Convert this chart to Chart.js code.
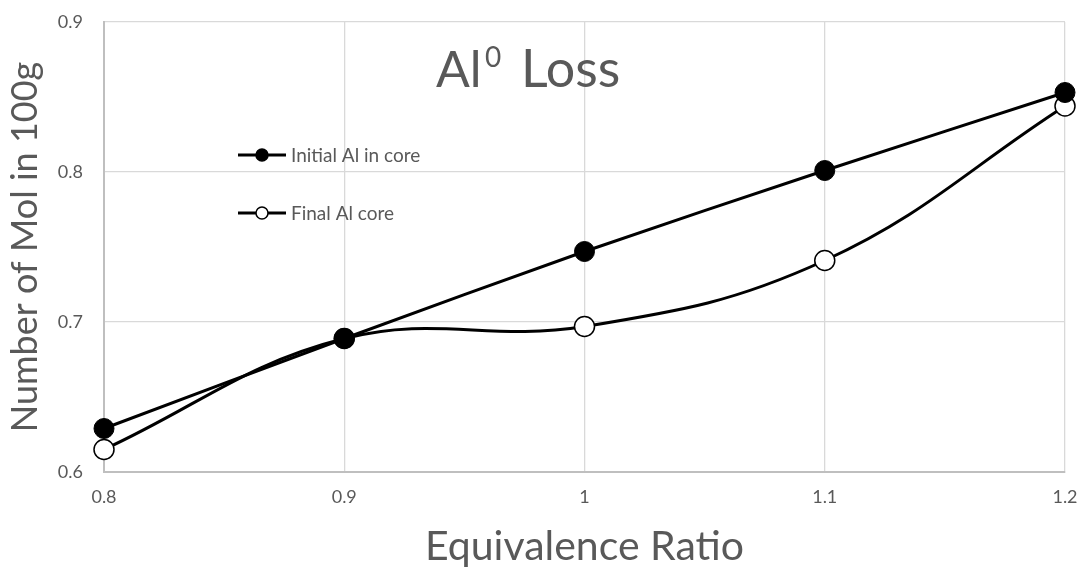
<!DOCTYPE html>
<html>
<head>
<meta charset="utf-8">
<script src="https://cdn.jsdelivr.net/npm/chart.js@4.4.1/dist/chart.umd.min.js"></script>
<style>
  html, body { margin: 0; padding: 0; background: #fff; }
  #wrap { width: 1080px; height: 567px; position: relative; }
</style>
</head>
<body>
<div id="wrap"><canvas id="c" width="1080" height="567"></canvas></div>
<script>
// Equivalence ratio vs. moles of aluminium per 100 g
const ratios = [0.8, 0.9, 1.0, 1.1, 1.2];
const initialAl = [0.629, 0.689, 0.747, 0.801, 0.853];
const finalAl = [0.615, 0.689, 0.697, 0.741, 0.844];
const yTicks = [0.6, 0.7, 0.8, 0.9];
const xTicks = ['0.8', '0.9', '1', '1.1', '1.2'];
const seriesNames = ['Initial Al in core', 'Final Al core'];

const FONT = 'Lato, "Open Sans", sans-serif';
const GREY = '#595959';

const toPts = (xs, ys) => xs.map((x, i) => ({ x: x, y: ys[i] }));

// In-plot legend and heading
const overlay = {
  id: 'overlay',
  afterDraw(chart) {
    const ctx = chart.ctx;
    ctx.save();
    // heading "Al⁰ Loss"
    ctx.fillStyle = GREY;
    ctx.textBaseline = 'alphabetic';
    ctx.textAlign = 'left';
    const base = 87;
    ctx.font = '50px ' + FONT;
    ctx.fillText('Al', 436, base);
    ctx.font = '28px ' + FONT;
    ctx.fillText('0', 485, 67);
    ctx.font = '52px ' + FONT;
    ctx.fillText('Loss', 521, base);

    // legend entries
    const rows = [155, 213];
    chart.data.datasets.forEach((ds, i) => {
      const y = rows[i];
      ctx.strokeStyle = ds.borderColor;
      ctx.lineWidth = 3;
      ctx.beginPath();
      ctx.moveTo(238, y);
      ctx.lineTo(286, y);
      ctx.stroke();
      ctx.beginPath();
      ctx.arc(262, y, 6, 0, Math.PI * 2);
      ctx.fillStyle = ds.pointBackgroundColor;
      ctx.fill();
      ctx.lineWidth = 1.5;
      ctx.strokeStyle = ds.pointBorderColor;
      ctx.stroke();
      ctx.fillStyle = GREY;
      ctx.font = '19px ' + FONT;
      ctx.textBaseline = 'middle';
      ctx.fillText(ds.label, 291, y + 1);
    });
    ctx.restore();
  }
};

new Chart(document.getElementById('c'), {
  type: 'line',
  data: {
    datasets: [
      {
        label: seriesNames[0],
        data: toPts(ratios, initialAl),
        borderColor: '#000',
        borderWidth: 3,
        pointRadius: 10,
        pointBackgroundColor: '#000',
        pointBorderColor: '#000',
        pointBorderWidth: 1,
        tension: 0.2,
        cubicInterpolationMode: 'default'
      },
      {
        label: seriesNames[1],
        data: toPts(ratios, finalAl),
        borderColor: '#000',
        borderWidth: 3,
        pointRadius: 10,
        pointBackgroundColor: '#fff',
        pointBorderColor: '#000',
        pointBorderWidth: 1.5,
        tension: 0.4,
        cubicInterpolationMode: 'default'
      }
    ]
  },
  options: {
    responsive: false,
    animation: false,
    clip: false,
    layout: { padding: { top: 22, right: 15, left: 0, bottom: 0 } },
    plugins: { legend: { display: false }, tooltip: { enabled: false }, title: { display: false } },
    scales: {
      x: {
        type: 'linear',
        min: 0.8, max: 1.2,
        afterBuildTicks(s) { s.ticks = ratios.map(v => ({ value: v })); },
        afterFit(s) { s.height = 95; s.paddingLeft = 0; s.paddingRight = 0; },
        ticks: {
          callback: (v, i) => xTicks[i],
          color: GREY, font: { family: FONT, size: 18 }, padding: 14, maxRotation: 0
        },
        grid: { color: '#d9d9d9', lineWidth: 1.3, drawTicks: false },
        border: { color: '#bfbfbf', width: 2 },
        title: { display: true, text: 'Equivalence Ratio', color: GREY, font: { family: FONT, size: 41, lineHeight: 1 }, padding: { top: 4, bottom: 0 } }
      },
      y: {
        min: 0.6, max: 0.9,
        afterBuildTicks(s) { s.ticks = yTicks.map(v => ({ value: v })); },
        afterFit(s) { s.width = 104; s.paddingTop = 0; s.paddingBottom = 0; },
        ticks: {
          callback: v => v.toFixed(1),
          color: GREY, font: { family: FONT, size: 18 }, padding: 21
        },
        grid: { color: '#d9d9d9', lineWidth: 1.3, drawTicks: false },
        border: { color: '#bfbfbf', width: 2 },
        title: { display: true, text: 'Number of Mol in 100g', color: GREY, font: { family: FONT, size: 36 }, padding: { bottom: 0 } }
      }
    }
  },
  plugins: [overlay]
});
</script>
</body>
</html>
